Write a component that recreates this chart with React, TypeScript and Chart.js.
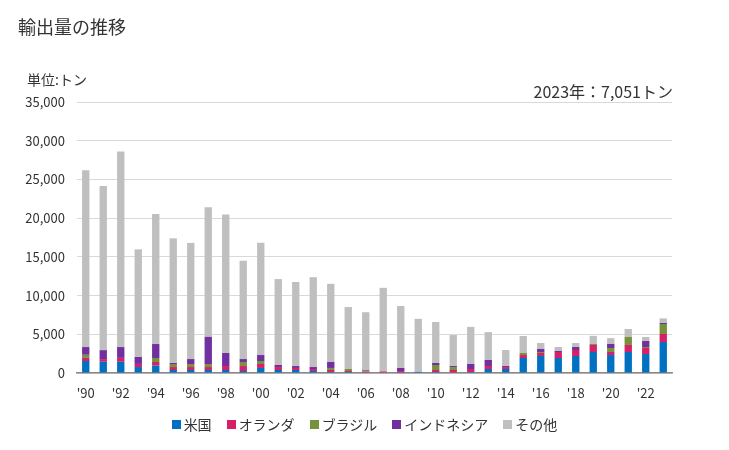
import React, { useEffect, useRef } from "react";
import { Chart, registerables } from "chart.js";
Chart.register(...registerables);

const years = ["'90","'91","'92","'93","'94","'95","'96","'97","'98","'99","'00","'01","'02","'03","'04","'05","'06","'07","'08","'09","'10","'11","'12","'13","'14","'15","'16","'17","'18","'19","'20","'21","'22","'23"];
const usa = [1550,1450,1450,770,950,390,390,390,390,260,650,390,390,260,130,130,0,0,50,150,130,0,130,520,520,1940,2200,1940,2200,2710,2320,2710,2450,4000];
const netherlands = [400,350,500,400,470,380,380,380,510,640,510,380,260,260,260,130,150,200,200,0,260,390,390,380,250,380,380,770,770,910,390,910,780,1040];
const brazil = [400,0,0,0,520,390,390,390,0,520,390,0,0,0,260,260,100,0,0,0,640,380,0,0,0,260,130,0,0,130,520,1030,130,1290];
const indonesia = [1000,1150,1400,900,1800,130,640,3500,1680,380,770,260,250,250,770,0,100,0,400,0,260,130,640,780,130,0,390,130,390,0,520,0,770,130];
const others = [22850,21200,25250,13900,16800,16100,15000,16750,17900,12700,14500,11100,10850,11600,10100,8000,7500,10800,8000,6850,5300,4000,4800,3600,2070,2200,770,520,510,1050,750,1030,520,591];
const yTicks = [0,5000,10000,15000,20000,25000,30000,35000];

const seriesNames = ["米国","オランダ","ブラジル","インドネシア","その他"];
const seriesColors = ["#0070c0","#d6206a","#76923c","#7030a0","#bfbfbf"];

const FONT = "'Noto Sans CJK JP', 'Noto Sans', sans-serif";

export default function App() {
  const ref = useRef<HTMLCanvasElement>(null);
  useEffect(() => {
    const values = [usa, netherlands, brazil, indonesia, others];
    const chart = new Chart(ref.current!, {
      type: "bar",
      data: {
        labels: years,
        datasets: values.map((v, i) => ({
          label: seriesNames[i],
          data: v,
          backgroundColor: seriesColors[i],
          borderWidth: 0,
          categoryPercentage: 1,
          barPercentage: 0.42,
        })),
      },
      options: {
        animation: false,
        responsive: false,
        maintainAspectRatio: false,
        layout: { padding: { left: 0, top: 102, right: 57, bottom: 0 } },
        plugins: { legend: { display: false }, tooltip: { enabled: false }, title: { display: false } },
        scales: {
          x: {
            stacked: true,
            grid: { display: false, drawTicks: false },
            border: { display: true, color: "#898989", width: 1.5 },
            ticks: {
              autoSkip: false,
              maxRotation: 0,
              padding: 12,
              color: "#333",
              font: { family: FONT, size: 13 },
              callback: (_v: any, i: number) => (i % 2 === 0 ? years[i] : ""),
            },
            afterFit: (s: any) => { s.height = 77; },
          },
          y: {
            stacked: true,
            min: yTicks[0],
            max: yTicks[yTicks.length - 1],
            afterBuildTicks: (s: any) => { s.ticks = yTicks.map((v) => ({ value: v })); },
            grid: { color: "#d9d9d9", lineWidth: 1, drawTicks: false },
            border: { display: false },
            ticks: {
              padding: 12,
              color: "#333",
              font: { family: FONT, size: 13 },
              callback: (v: any) => Number(v).toLocaleString("en-US"),
            },
            afterFit: (s: any) => { s.width = 77; },
          },
        },
      },
    });
    return () => chart.destroy();
  }, []);

  const txt: React.CSSProperties = { position: "absolute", fontFamily: FONT, color: "#333", whiteSpace: "nowrap", lineHeight: 1 };
  return (
    <div style={{ position: "absolute", left: 0, top: 0, width: 729, height: 450, background: "#fff" }}>
      <canvas ref={ref} width={729} height={450} style={{ position: "absolute", left: 0, top: 0 }} />
      <div style={{ ...txt, left: 18, top: 17, fontSize: 18 }}>輸出量の推移</div>
      <div style={{ ...txt, left: 27, top: 72, fontSize: 14 }}>単位:トン</div>
      <div style={{ ...txt, right: 729 - 673, top: 83, fontSize: 16 }}>2023年：7,051トン</div>
      <div style={{ position: "absolute", left: 0, width: 729, top: 417, display: "flex", justifyContent: "center", gap: 15, fontFamily: FONT, fontSize: 14, color: "#333" }}>
        {seriesNames.map((n, i) => (
          <div key={n} style={{ display: "flex", alignItems: "center", gap: 3, lineHeight: 1 }}>
            <span style={{ display: "inline-block", width: 9, height: 9, background: seriesColors[i] }} />
            <span>{n}</span>
          </div>
        ))}
      </div>
    </div>
  );
}
